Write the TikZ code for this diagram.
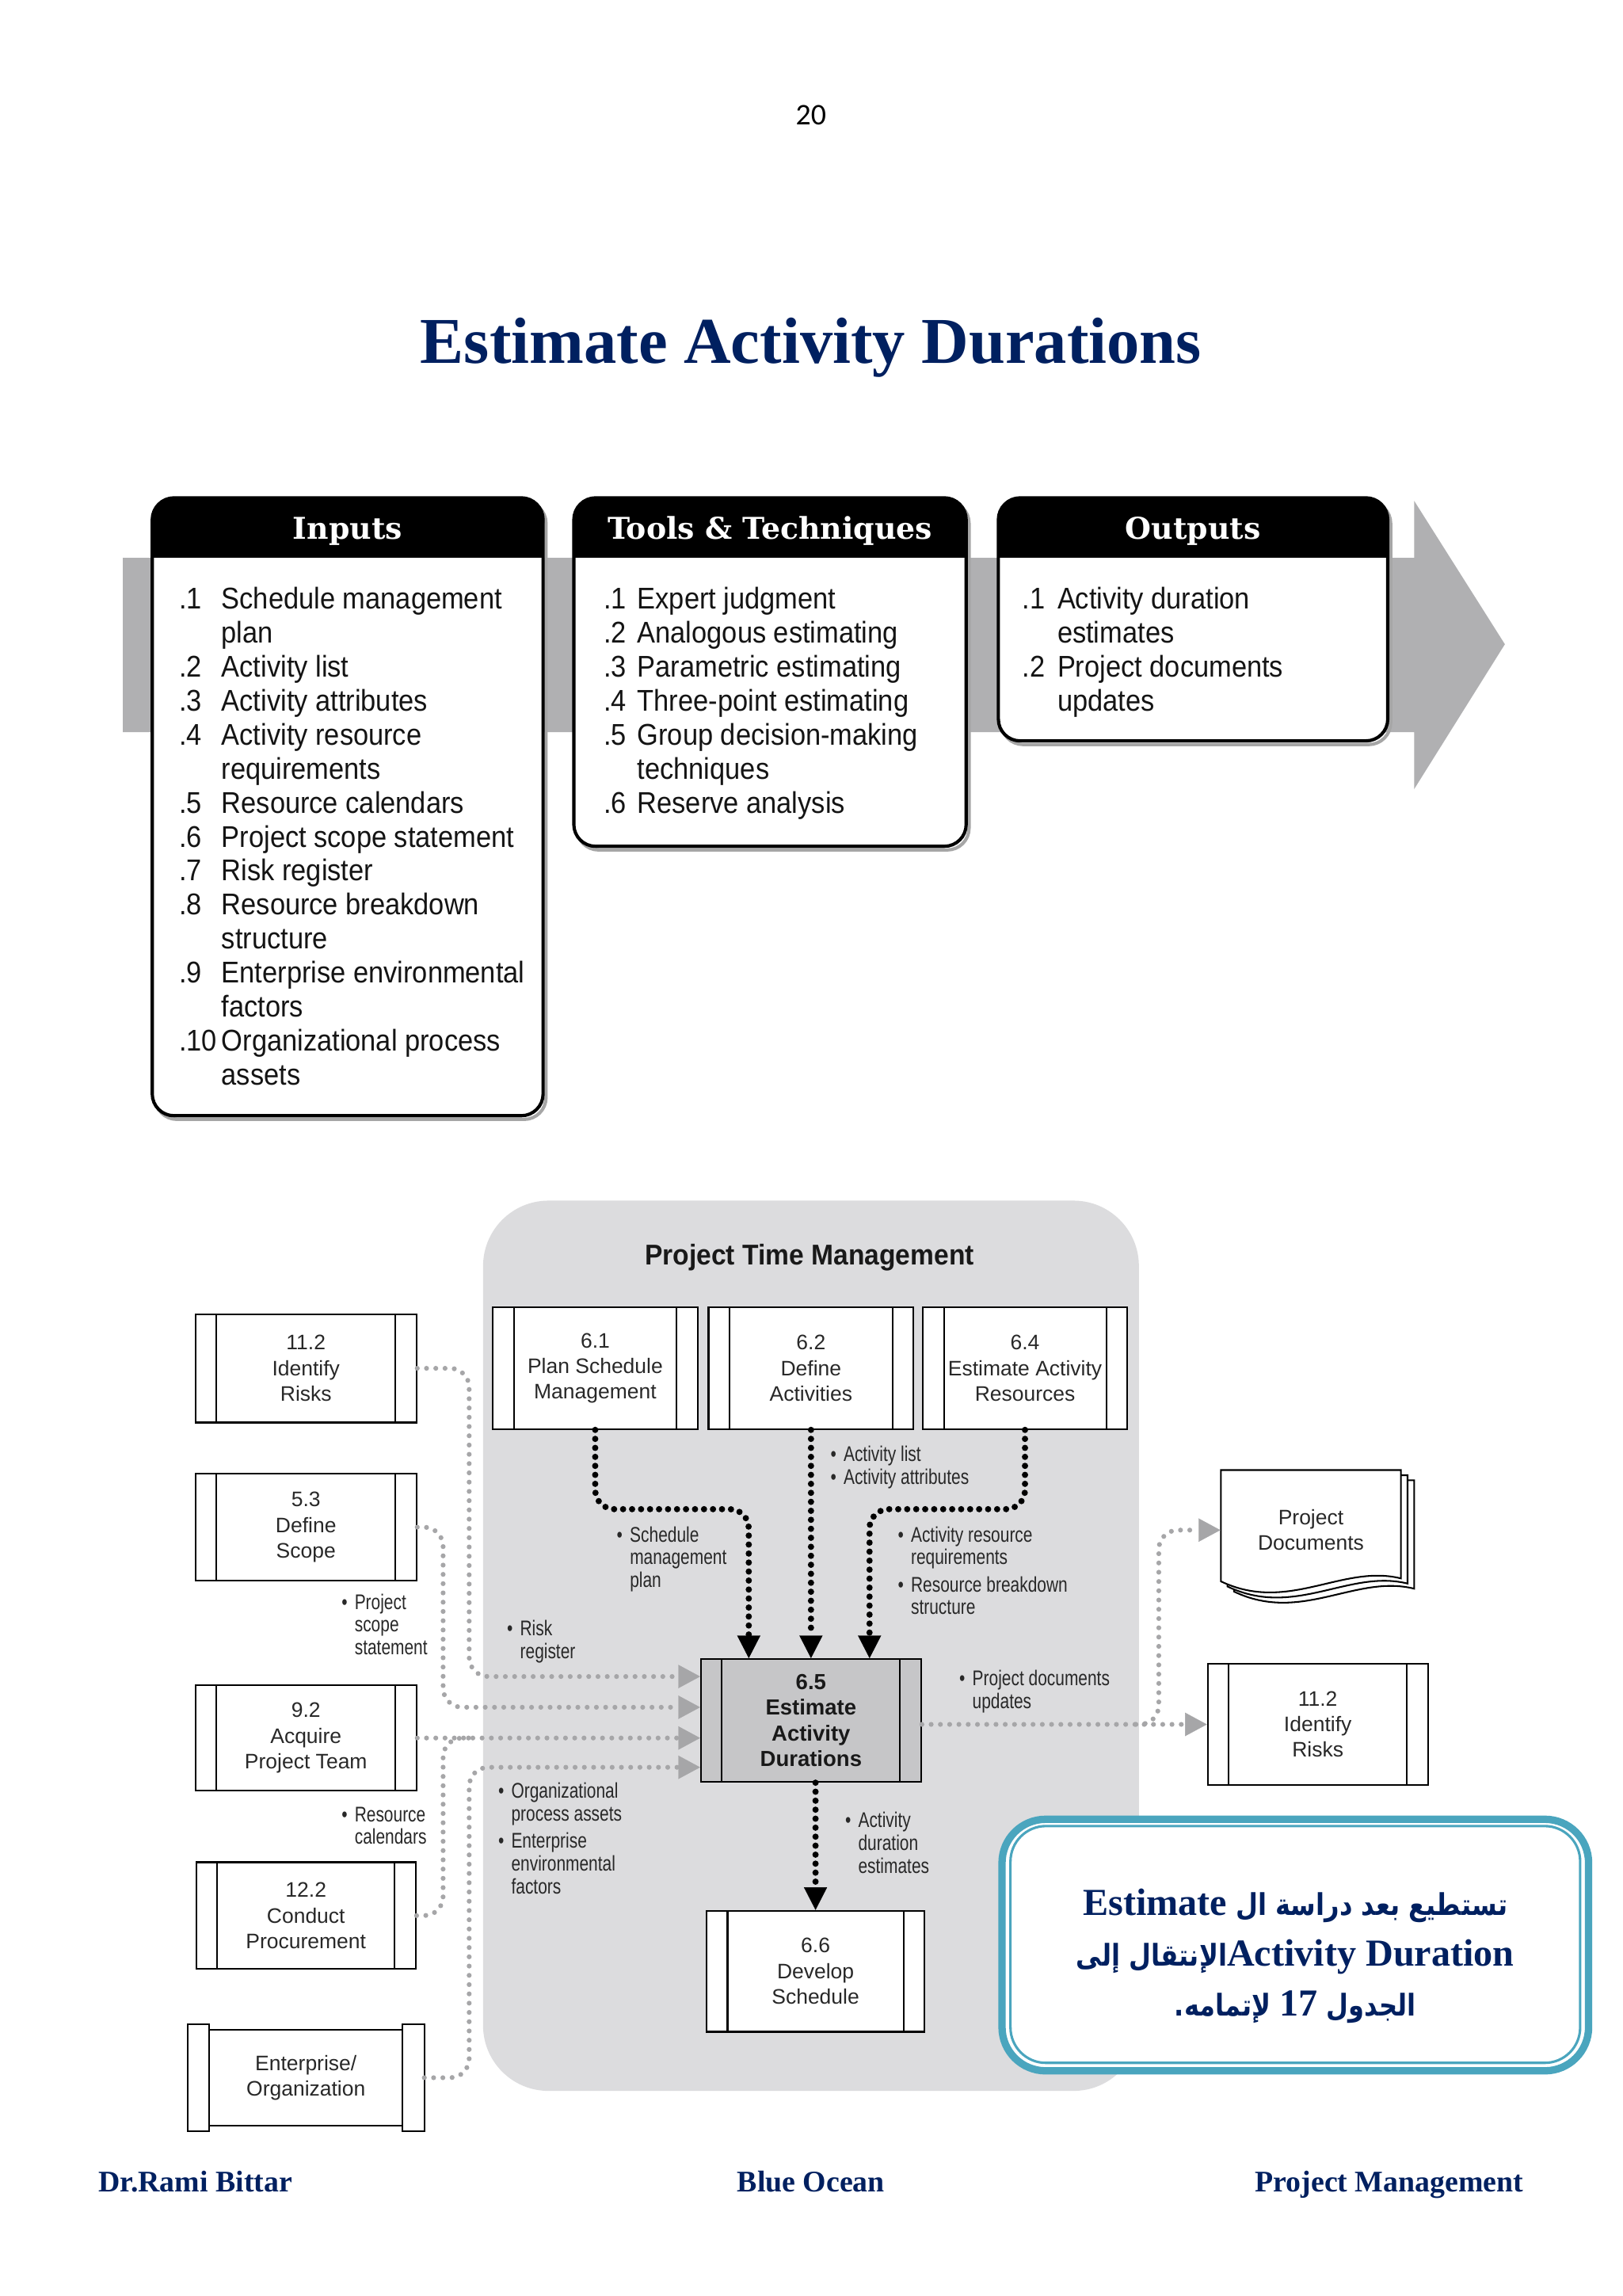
\documentclass[tikz,border=0pt]{standalone}
\usepackage{fontspec}
\setmainfont{Liberation Serif}
\newfontfamily\pagenofont{Carlito}
\newfontfamily\hdrfont{DejaVu Serif}
\newfontfamily\ittofont[FakeStretch=0.91]{Liberation Sans}
\newfontfamily\procfont{Liberation Sans}
\newfontfamily\lblfont[FakeStretch=0.78]{Liberation Sans}
\newfontfamily\ptmfont[FakeStretch=0.93]{Liberation Sans}
\newfontfamily\arabicfont[Script=Arabic,FakeStretch=0.85]{DejaVu Sans}
\TeXXeTstate=1
\usetikzlibrary{arrows.meta}
\definecolor{cNavy}{RGB}{0,32,96}
\definecolor{bandgray}{RGB}{176,176,178}
\definecolor{regiongray}{RGB}{220,220,222}
\definecolor{boxgray}{RGB}{198,198,200}
\definecolor{dotgray}{RGB}{166,166,168}
\definecolor{tealb}{RGB}{74,165,190}
\definecolor{txtgray}{RGB}{40,40,40}
\newcommand\arb{\arabicfont\fontsize{11}{18.5}\selectfont}
\newcommand\ltn{\rmfamily\fontsize{14}{18.5}\selectfont}
\newcommand\ittobox[4]{%
 \draw[black!35, line width=1.2pt, rounded corners=8pt] (#1+2,#2+2.5) rectangle (#3+2,#4+2.5);
 \fill[white, rounded corners=8pt] (#1,#2) rectangle (#3,#4);
 \begin{scope}\clip[rounded corners=8pt] (#1,#2) rectangle (#3,#4);
 \fill[black] (#1,#2) rectangle (#3,#2+41);\end{scope}
 \draw[black, line width=1.2pt, rounded corners=8pt] (#1,#2) rectangle (#3,#4);}
\newcommand\docpage[2]{%
 \draw[fill=white, line width=0.6pt] (834+#1,1004+#2) -- (957+#1,1004+#2) -- (957+#1,1078+#2)
  .. controls (917+#1,1068+#2) and (880+#1,1102+#2) .. (834+#1,1080+#2) -- cycle;}
\begin{document}
\begin{tikzpicture}[x=0.5373pt,y=-0.5373pt,
  procbox/.style={draw=black, line width=0.6pt, fill=white, inner sep=0pt, align=center, text=txtgray,
     font=\procfont\fontsize{7.7}{9.4}\selectfont,
     path picture={\draw[black, line width=0.6pt]
        ([xshift=7.7pt]path picture bounding box.north west) -- ([xshift=7.7pt]path picture bounding box.south west)
        ([xshift=-7.7pt]path picture bounding box.north east) -- ([xshift=-7.7pt]path picture bounding box.south east);}},
  itto/.style={anchor=base west, inner sep=0pt, text=black!92, font=\ittofont\fontsize{11}{12.47}\selectfont},
  hdr/.style={anchor=base, inner sep=0pt, text=white, font=\hdrfont\bfseries\fontsize{11}{13}\selectfont},
  lbl/.style={anchor=base west, inner sep=0pt, text=txtgray, font=\lblfont\fontsize{7.8}{8.4}\selectfont},
  gdot/.style={draw=dotgray, line width=1.8pt, line cap=round, dash pattern=on 0pt off 3.4pt, rounded corners=7pt,
     -{Triangle[length=8pt,width=8.6pt,line width=0.1pt]}},
  bdot/.style={draw=black, line width=2.3pt, line cap=round, dash pattern=on 0pt off 3.3pt, rounded corners=7pt,
     -{Triangle[length=8.3pt,width=8.5pt,line width=0.1pt]}},
  foot/.style={inner sep=0pt, text=cNavy, font=\bfseries\fontsize{11}{13}\selectfont}
]
\useasboundingbox (0,0) rectangle (1108.2,1568.1);
\fill[white] (0,0) rectangle (1108.2,1568.1);

% page number and title
\node[anchor=base, inner sep=0pt, font=\pagenofont\fontsize{11}{13}\selectfont] (pageno) at (554,85) {20};
\node[anchor=base, inner sep=0pt, text=cNavy, font=\bfseries\fontsize{24}{28}\selectfont] (title) at (554,248) {Estimate Activity Durations};

% ITTO band arrow
\fill[bandgray] (84,381) -- (966,381) -- (966,342) -- (1028,440) -- (966,539) -- (966,500) -- (84,500) -- cycle;

\ittobox{104}{340}{371}{762}
\ittobox{392}{340}{660}{578}
\ittobox{682}{340}{948}{506}

\node[hdr] (hIn) at (237.5,368.4) {Inputs};
\node[hdr] (hTT) at (526,368.4) {Tools \& Techniques};
\node[hdr] (hOut) at (815,368.4) {Outputs};

\node[itto] (iIn) at (122,416) {\begin{tabular}[t]{@{}p{15.6pt}@{}l@{}}
.1 & Schedule management\\
 & plan\\
.2 & Activity list\\
.3 & Activity attributes\\
.4 & Activity resource\\
 & requirements\\
.5 & Resource calendars\\
.6 & Project scope statement\\
.7 & Risk register\\
.8 & Resource breakdown\\
 & structure\\
.9 & Enterprise environmental\\
 & factors\\
.10 & Organizational process\\
 & assets
\end{tabular}};
\node[itto] (iTT) at (412,416) {\begin{tabular}[t]{@{}p{12.4pt}@{}l@{}}
.1 & Expert judgment\\
.2 & Analogous estimating\\
.3 & Parametric estimating\\
.4 & Three-point estimating\\
.5 & Group decision-making\\
 & techniques\\
.6 & Reserve analysis
\end{tabular}};
\node[itto] (iOut) at (698,416) {\begin{tabular}[t]{@{}p{12.9pt}@{}l@{}}
.1 & Activity duration\\
 & estimates\\
.2 & Project documents\\
 & updates
\end{tabular}};

% Project Time Management region
\fill[regiongray, rounded corners=24pt] (330,820) rectangle (778,1428);
\node[inner sep=0pt, font=\ptmfont\bfseries\fontsize{10.5}{12}\selectfont, text=black!90] (ptm) at (553,859) {Project Time Management};

% process boxes
\node[procbox, minimum width=81.1pt, minimum height=39.8pt] (r112L) at (209,934.5) {11.2\\Identify\\Risks};
\node[procbox, minimum width=81.1pt, minimum height=39.2pt] (s53) at (209,1043) {5.3\\Define\\Scope};
\node[procbox, minimum width=81.1pt, minimum height=38.7pt] (t92) at (209,1187) {9.2\\Acquire\\Project Team};
\node[procbox, minimum width=80.6pt, minimum height=39.2pt] (p122) at (209,1308.3) {12.2\\Conduct\\Procurement};
\node[inner sep=0pt, fill=white, minimum width=86.5pt, minimum height=38.7pt, align=center, text=txtgray,
      font=\procfont\fontsize{7.7}{9.4}\selectfont] (ent) at (209,1419) {Enterprise/\\Organization};
\draw[line width=0.6pt] (ent.north west) rectangle ([xshift=7.8pt]ent.south west);
\draw[line width=0.6pt] (ent.north east) rectangle ([xshift=-8pt]ent.south east);
\draw[line width=0.6pt] ([shift={(14.5,3.5)}]ent.north west) -- ([shift={(-15,3.5)}]ent.north east);
\draw[line width=0.6pt] ([shift={(14.5,-3.5)}]ent.south west) -- ([shift={(-15,-3.5)}]ent.south east);

\node[procbox, minimum width=75.2pt, minimum height=44.6pt] (b61) at (406.6,934.5) {6.1\\Plan Schedule\\Management};
\node[procbox, minimum width=75.2pt, minimum height=44.6pt] (b62) at (554,934.5) {6.2\\Define\\Activities};
\node[procbox, minimum width=75pt, minimum height=44.6pt] (b64) at (700.2,934.5) {6.4\\Estimate Activity\\Resources};
\node[procbox, fill=boxgray, text=black!90, font=\procfont\bfseries\fontsize{8}{9.35}\selectfont,
      minimum width=80.8pt, minimum height=45.1pt] (b65) at (554,1175) {6.5\\Estimate\\Activity\\Durations};
\node[procbox, minimum width=80pt, minimum height=44.4pt] (b66) at (557.1,1346.3) {6.6\\Develop\\Schedule};
\node[procbox, minimum width=80.8pt, minimum height=44.4pt] (r112R) at (900.2,1177.7) {11.2\\Identify\\Risks};

% project documents
\docpage{9}{7}
\docpage{4.5}{3.5}
\docpage{0}{0}
\node[inner sep=0pt, minimum width=66.1pt, minimum height=44.1pt, align=center, text=txtgray,
      font=\procfont\fontsize{7.7}{9.4}\selectfont] (pdocs) at (895.5,1045) {Project\\Documents};

% black dotted flows
\coordinate (k1) at (511.5,1030.7);
\coordinate (k2) at (594,1030.7);
\draw[bdot] (b61.south) |- (k1) -- (k1 |- b65.north);
\draw[bdot] (b62.south) -- (b65.north);
\draw[bdot] (b64.south) |- (k2) -- (k2 |- b65.north);
\draw[bdot] (b66.north |- b65.south) -- (b66.north);

% gray dotted flows
\coordinate (g1) at (320.5,1145);
\coordinate (g2) at (302.7,1166);
\coordinate (g3) at (302.7,1187);
\coordinate (g4) at (320.5,1207);
\coordinate (g5) at (791.6,1045);
\coordinate (g6) at (776,1177.7);
\draw[gdot] (r112L.east) -| (g1) -- (g1 -| b65.west);
\draw[gdot] (s53.east) -| (g2) -- (g2 -| b65.west);
\draw[gdot] (t92.east) -- (t92.east -| b65.west);
\draw[gdot,-] (p122.east) -| (g3) -- ++(20,0);
\draw[gdot] (ent.east) -| (g4) -- (g4 -| b65.west);
\draw[gdot] (b65.east |- r112R.west) -- (r112R.west);
\draw[gdot] (g6) -| (g5) -- (pdocs.west);

% labels
\node[lbl] (lAct) at (567,998) {\begin{tabular}[t]{@{}p{4.8pt}@{}l@{}}\textbullet&Activity list\\\textbullet&Activity attributes\end{tabular}};
\node[lbl] (lSmp) at (421,1053) {\begin{tabular}[t]{@{}p{4.8pt}@{}l@{}}\textbullet&Schedule\\&management\\&plan\end{tabular}};
\node[lbl] (lArr) at (613,1053) {\begin{tabular}[t]{@{}p{4.8pt}@{}l@{}}\textbullet&Activity resource\\&requirements\\[1.5pt]\textbullet&Resource breakdown\\&structure\end{tabular}};
\node[lbl] (lPss) at (233,1099) {\begin{tabular}[t]{@{}p{4.8pt}@{}l@{}}\textbullet&Project\\&scope\\&statement\end{tabular}};
\node[lbl] (lRisk) at (346,1117) {\begin{tabular}[t]{@{}p{4.8pt}@{}l@{}}\textbullet&Risk\\&register\end{tabular}};
\node[lbl] (lPdu) at (655,1151) {\begin{tabular}[t]{@{}p{4.8pt}@{}l@{}}\textbullet&Project documents\\&updates\end{tabular}};
\node[lbl] (lOpa) at (340,1228) {\begin{tabular}[t]{@{}p{4.8pt}@{}l@{}}\textbullet&Organizational\\&process assets\\[1.6pt]\textbullet&Enterprise\\&environmental\\&factors\end{tabular}};
\node[lbl] (lRc) at (233,1244) {\begin{tabular}[t]{@{}p{4.8pt}@{}l@{}}\textbullet&Resource\\&calendars\end{tabular}};
\node[lbl] (lAde) at (577,1248) {\begin{tabular}[t]{@{}p{4.8pt}@{}l@{}}\textbullet&Activity\\&duration\\&estimates\end{tabular}};

% Arabic note box
\node[draw=tealb, line width=2.7pt, fill=white, rounded corners=16pt, minimum width=215.3pt, minimum height=92.3pt] (abox) at (884.85,1328.4) {};
\node[draw=tealb, line width=0.9pt, rounded corners=13pt, minimum width=209.1pt, minimum height=86.9pt] (aboxin) at (884.85,1328) {};
\node[align=center, inner sep=0pt, text=cNavy, font=\bfseries\fontsize{14}{18.5}\selectfont] (atext) at (884.8,1336) {%
\arb\beginR تستطيع بعد دراسة ال \beginL{\ltn Estimate}\endL\endR\\
\arb\beginR\beginL{\ltn Activity Duration}\endL الإنتقال إلى\endR\\
\arb\beginR الجدول \beginL{\ltn 17}\endL{} لإتمامه.\endR};

% footer
\node[foot, anchor=base west] (f1) at (67,1497) {Dr.Rami Bittar};
\node[foot, anchor=base] (f2) at (554,1497) {Blue Ocean};
\node[foot, anchor=base east] (f3) at (1041,1497) {Project Management};
\end{tikzpicture}
\end{document}
